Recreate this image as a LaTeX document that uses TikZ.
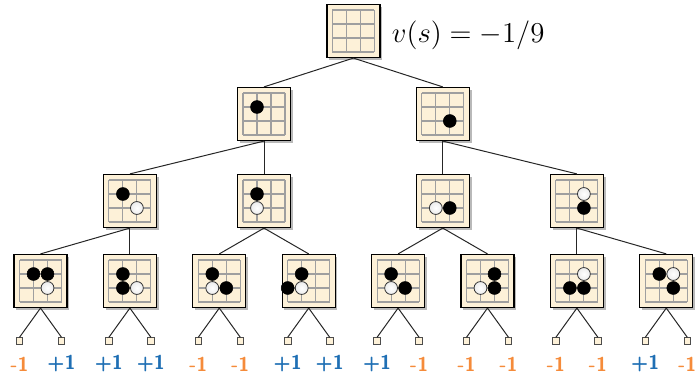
\documentclass[tikz,border=0pt]{standalone}
\usepackage{amsmath,amssymb}
\usepackage{xcolor}
\usepackage{tikz}
\usetikzlibrary{positioning,shadows}
\definecolor{boardbg}{HTML}{FDF1D8}
\definecolor{winblue}{HTML}{1F6FB4}
\definecolor{lossorange}{HTML}{F58B3A}

\newcommand{\goboard}[4]{%
  \node[board] (#1) at (#2,#3) {};
  \begin{scope}[shift={(#2,#3)},x=7pt,y=-7pt,shift={(-1.5,-1.5)}]
    \foreach \i in {0,...,3}{\draw[gridln] (\i,0) -- (\i,3); \draw[gridln] (0,\i) -- (3,\i);}
    \foreach \c/\r/\s in {#4}{\path[\s] (\c,\r) circle[radius=0.46];}
  \end{scope}}

\begin{document}
\begin{tikzpicture}[x=0.5pt,y=-0.5pt,
  board/.style={draw=black,line width=0.6pt,fill=boardbg,minimum size=26.5pt,inner sep=0pt,
    drop shadow={shadow xshift=1.1pt,shadow yshift=-1.1pt,opacity=0.55}},
  gridln/.style={gray!75,line width=0.55pt},
  bstone/.style={fill=black,draw=black,line width=0.3pt},
  wstone/.style={draw=black!80,line width=0.4pt,inner color=white,outer color=gray!15,shade},
  edge/.style={black!85,line width=0.5pt},
  leafbox/.style={draw=gray!60!black,fill=boardbg,line width=0.4pt,minimum size=3.3pt,inner sep=0pt},
  score/.style={font=\sffamily\bfseries,inner sep=0pt}]
\useasboundingbox (0,0) rectangle (698,374);
\goboard{root}{353.4}{31}{}
\node[font=\Large,anchor=west,inner sep=0pt,right=5.5pt of root,yshift=-2pt] (val) {$v(s) = -1/9$};
\goboard{m1}{264}{114}{1/1/bstone}
\goboard{m2}{442.8}{114}{2/2/bstone}
\goboard{p1}{129.9}{201}{1/1/bstone,2/2/wstone}
\goboard{p2}{264}{201}{1/1/bstone,1/2/wstone}
\goboard{p3}{442.8}{201}{1/2/wstone,2/2/bstone}
\goboard{p4}{576.9}{201}{2/1/wstone,2/2/bstone}
\goboard{q1}{40.5}{281}{1/1/bstone,2/1/bstone,2/2/wstone}
\goboard{q2}{129.9}{281}{1/1/bstone,1/2/bstone,2/2/wstone}
\goboard{q3}{219.3}{281}{1/1/bstone,1/2/wstone,2/2/bstone}
\goboard{q4}{308.7}{281}{1/1/bstone,1/2/wstone,0/2/bstone}
\goboard{q5}{398.1}{281}{1/1/bstone,1/2/wstone,2/2/bstone}
\goboard{q6}{487.5}{281}{2/1/bstone,1/2/wstone,2/2/bstone}
\goboard{q7}{576.9}{281}{2/1/wstone,1/2/bstone,2/2/bstone}
\goboard{q8}{666.3}{281}{1/1/bstone,2/1/wstone,2/2/bstone}
\foreach \a/\b in {root/m1,root/m2,m1/p1,m1/p2,m2/p3,m2/p4,p1/q1,p1/q2,p2/q3,p2/q4,p3/q5,p3/q6,p4/q7,p4/q8}
  \draw[edge] (\a.south) -- (\b.north);
\foreach \v/\c [count=\k] in {-1/lossorange,+1/winblue,+1/winblue,+1/winblue,-1/lossorange,-1/lossorange,+1/winblue,+1/winblue,
  +1/winblue,-1/lossorange,-1/lossorange,-1/lossorange,-1/lossorange,-1/lossorange,+1/winblue,-1/lossorange}{
  \pgfmathsetmacro{\lx}{40.5+89.4*int((\k-1)/2)+21*(2*mod(\k-1,2)-1)}
  \pgfmathtruncatemacro{\p}{(\k+1)/2}
  \node[leafbox] (t\k) at (\lx,341) {};
  \node[score,text=\c] (s\k) at (\lx,364) {\v};
  \draw[edge] (q\p.south) -- (t\k.north);
}
\end{tikzpicture}
\end{document}
